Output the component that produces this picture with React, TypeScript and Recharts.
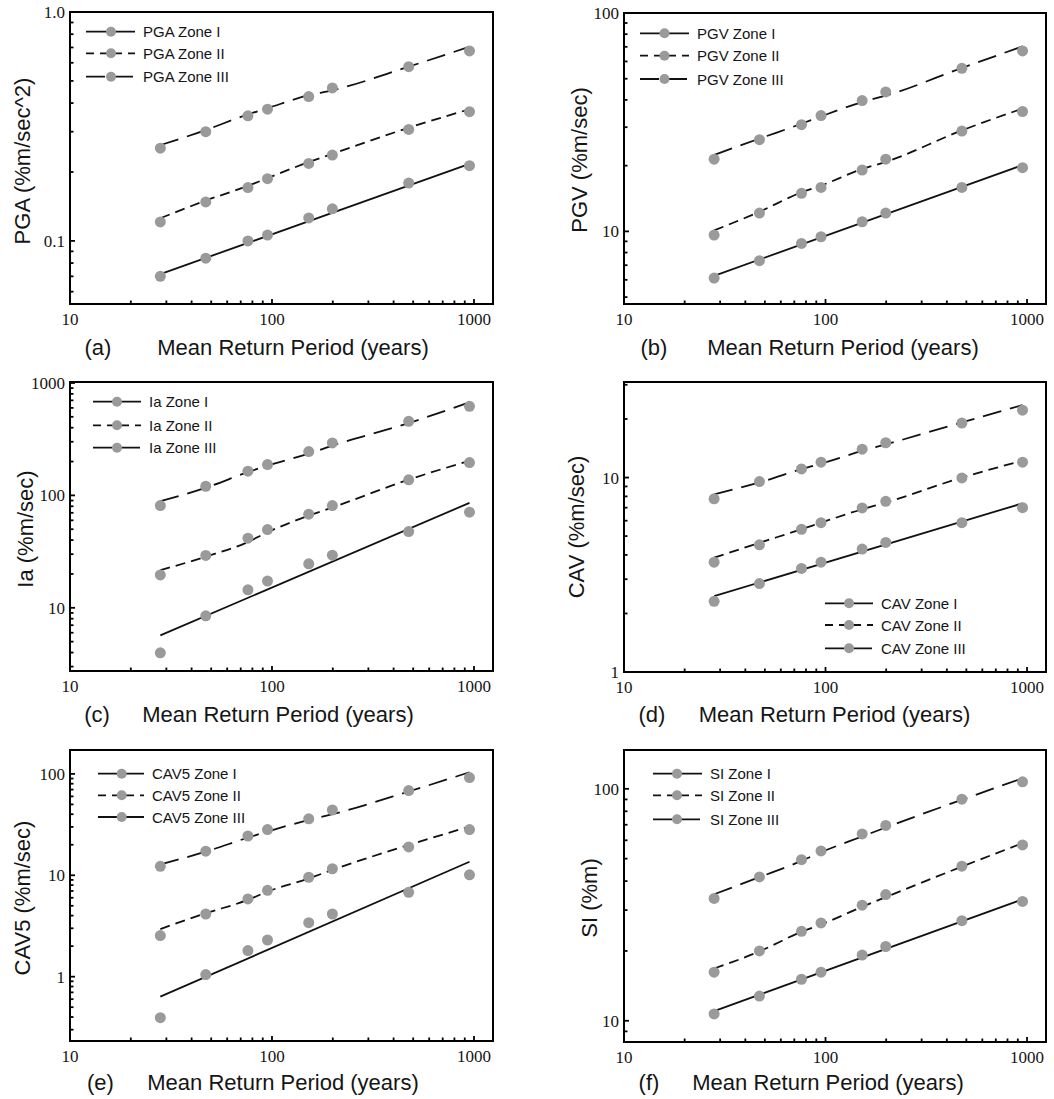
import React from 'react';
import { ComposedChart, Line, Scatter, XAxis, YAxis } from 'recharts';

// ---------- data ----------
const returnPeriods = [28, 47, 76, 95, 152, 199, 475, 950];
const fitEnds = [28, 950];
const zoneNames = ['Zone I', 'Zone II', 'Zone III'];

const pgaZ1 = [0.070, 0.084, 0.100, 0.106, 0.126, 0.138, 0.179, 0.213];
const pgaZ2 = [0.121, 0.148, 0.171, 0.187, 0.218, 0.237, 0.307, 0.367];
const pgaZ3 = [0.254, 0.300, 0.352, 0.376, 0.427, 0.466, 0.577, 0.676];
const pgaFit1 = [0.0716, 0.217];
const pgaFit2 = [0.1256, 0.150, 0.174, 0.188, 0.221, 0.240, 0.312, 0.376];
const pgaFit3 = [0.262, 0.305, 0.357, 0.380, 0.433, 0.455, 0.577, 0.705];

const pgvZ1 = [6.11, 7.34, 8.81, 9.45, 11.07, 12.13, 15.9, 19.57];
const pgvZ2 = [9.62, 12.13, 14.93, 15.9, 19.1, 21.4, 28.8, 35.4];
const pgvZ3 = [21.4, 26.3, 30.8, 33.9, 39.7, 43.5, 55.8, 67.0];
const pgvFit1 = [6.26, 20.1];
const pgvFit2 = [10.1, 12.3, 15.1, 16.2, 19.3, 20.8, 29.0, 36.5];
const pgvFit3 = [22.4, 26.6, 31.1, 33.6, 39.1, 41.8, 56.0, 70.3];

const iaZ1 = [3.98, 8.49, 14.45, 17.3, 24.6, 29.4, 47.7, 70.9];
const iaZ2 = [19.6, 29.2, 41.6, 49.7, 68.0, 81.2, 137.5, 196];
const iaZ3 = [81.2, 120.6, 164, 188, 245.5, 293, 456, 620];
const iaFit1 = [5.68, 85.8];
const iaFit2 = [21.6, 28.5, 38.5, 47, 66, 78, 138, 203];
const iaFit3 = [88.7, 117, 161, 184, 235, 277, 440, 673];

const cavZ1 = [2.31, 2.85, 3.41, 3.67, 4.29, 4.64, 5.86, 7.0];
const cavZ2 = [3.67, 4.51, 5.42, 5.86, 6.98, 7.55, 9.96, 12.0];
const cavZ3 = [7.77, 9.54, 11.08, 12.0, 14.0, 15.1, 19.05, 22.2];
const cavFit1 = [2.455, 7.37];
const cavFit2 = [3.87, 4.62, 5.42, 5.86, 6.87, 7.43, 10.0, 12.2];
const cavFit3 = [8.2, 9.44, 11.05, 11.8, 13.7, 14.8, 19.2, 23.6];

const cav5Z1 = [0.394, 1.05, 1.81, 2.30, 3.41, 4.15, 6.79, 10.1];
const cav5Z2 = [2.54, 4.15, 5.84, 7.11, 9.56, 11.6, 19.05, 28.2];
const cav5Z3 = [12.27, 17.3, 24.4, 28.2, 36.0, 44.1, 68.5, 92.0];
const cav5Fit1 = [0.635, 13.6];
const cav5Fit2 = [2.95, 4.22, 5.72, 6.9, 9.3, 11.3, 19.9, 30.2];
const cav5Fit3 = [12.8, 17.1, 23.5, 27.0, 35.1, 40.0, 67.0, 103.8];

const siZ1 = [10.7, 12.78, 15.1, 16.2, 19.2, 20.9, 27.0, 32.7];
const siZ2 = [16.2, 20.0, 24.3, 26.4, 31.5, 35.0, 46.4, 57.3];
const siZ3 = [33.7, 41.7, 49.5, 54.0, 63.9, 69.5, 90.2, 107.2];
const siFit1 = [11.0, 33.4];
const siFit2 = [16.8, 19.9, 24.2, 26.0, 31.0, 34.1, 46.2, 58.3];
const siFit3 = [35.1, 41.6, 48.9, 53.3, 62.3, 68.1, 89.7, 111];

const xTickValues = [10, 100, 1000];
const xTickLabels = ['10', '100', '1000'];
const xDomain = [10, 1242];

const pgaYTicks = [0.1, 1];
const pgaYLabels = ['0.1', '1.0'];
const pgvYTicks = [10, 100];
const pgvYLabels = ['10', '100'];
const iaYTicks = [10, 100, 1000];
const iaYLabels = ['10', '100', '1000'];
const cavYTicks = [1, 10];
const cavYLabels = ['1', '10'];
const cav5YTicks = [1, 10, 100];
const cav5YLabels = ['1', '10', '100'];
const siYTicks = [10, 100];
const siYLabels = ['10', '100'];

// ---------- helpers ----------
const zip = (xs: number[], ys: number[]) => xs.map((x, i) => ({ x, y: ys[i] }));

function logTicks(min: number, max: number) {
  const out: number[] = [];
  for (let e = -3; e <= 4; e++) {
    for (let k = 1; k <= 9; k++) {
      const v = Number((k * Math.pow(10, e)).toPrecision(6));
      if (v >= min * 0.9999 && v <= max * 1.0001) out.push(v);
    }
  }
  return out;
}

const SERIF = "'Liberation Serif', 'Times New Roman', serif";
const SANS = "'Liberation Sans', Arial, Helvetica, sans-serif";
const TXT = '#151515';
const DOT = '#9a9a9a';
const DASH2 = '10 6';
const DASH3 = '19 9';

const labelFor = (v: number, ticks: number[], labels: string[]) => {
  const i = ticks.findIndex((t) => Math.abs(t - v) / t < 1e-6);
  return i >= 0 ? labels[i] : null;
};

type Cfg = {
  key: string;
  px: number; py: number; h: number;
  plot: { l: number; t: number; r: number; b: number };
  yDomain: number[];
  yTicks: number[]; yLabels: string[];
  yTitle: string; yt: { x: number; y: number };
  xt: { x: number; y: number }; letter: string; lx: number;
  prefix: string;
  legend: { x0: number; x1: number; dx: number; tx: number; rows: number[] };
  dots: number[][];
  fits: number[][];
};

const panels: Cfg[] = [
  {
    key: 'a', px: 0, py: 0, h: 366, plot: { l: 70, t: 12, r: 493, b: 304 },
    yDomain: [0.053, 1.0], yTicks: pgaYTicks, yLabels: pgaYLabels,
    yTitle: 'PGA (%m/sec^2)', yt: { x: 22, y: 161 }, xt: { x: 293, y: 347 }, letter: '(a)', lx: 98,
    prefix: 'PGA', legend: { x0: 86, x1: 135, dx: 111, tx: 143, rows: [31.7, 53.3, 76.7] },
    dots: [pgaZ1, pgaZ2, pgaZ3], fits: [pgaFit1, pgaFit2, pgaFit3],
  },
  {
    key: 'b', px: 527, py: 0, h: 366, plot: { l: 97, t: 13, r: 519, b: 304 },
    yDomain: [4.65, 100], yTicks: pgvYTicks, yLabels: pgvYLabels,
    yTitle: 'PGV (%m/sec)', yt: { x: 52, y: 160 }, xt: { x: 316, y: 347 }, letter: '(b)', lx: 127,
    prefix: 'PGV', legend: { x0: 113, x1: 162, dx: 137.5, tx: 170, rows: [33.3, 55.7, 79] },
    dots: [pgvZ1, pgvZ2, pgvZ3], fits: [pgvFit1, pgvFit2, pgvFit3],
  },
  {
    key: 'c', px: 0, py: 366, h: 366, plot: { l: 70, t: 16, r: 493, b: 305 },
    yDomain: [2.74, 1020], yTicks: iaYTicks, yLabels: iaYLabels,
    yTitle: 'Ia (%m/sec)', yt: { x: 25, y: 163 }, xt: { x: 278, y: 348 }, letter: '(c)', lx: 97,
    prefix: 'Ia', legend: { x0: 93, x1: 141, dx: 117, tx: 149, rows: [35.7, 59.3, 81.7] },
    dots: [iaZ1, iaZ2, iaZ3], fits: [iaFit1, iaFit2, iaFit3],
  },
  {
    key: 'd', px: 527, py: 366, h: 366, plot: { l: 97, t: 16, r: 519, b: 306 },
    yDomain: [1, 31], yTicks: cavYTicks, yLabels: cavYLabels,
    yTitle: 'CAV (%m/sec)', yt: { x: 49, y: 161 }, xt: { x: 307.5, y: 348 }, letter: '(d)', lx: 125,
    prefix: 'CAV', legend: { x0: 298, x1: 346, dx: 322, tx: 354, rows: [237.3, 259, 282.3] },
    dots: [cavZ1, cavZ2, cavZ3], fits: [cavFit1, cavFit2, cavFit3],
  },
  {
    key: 'e', px: 0, py: 732, h: 367, plot: { l: 70, t: 18, r: 493, b: 309 },
    yDomain: [0.232, 172], yTicks: cav5YTicks, yLabels: cav5YLabels,
    yTitle: 'CAV5 (%m/sec)', yt: { x: 22, y: 166 }, xt: { x: 283, y: 350 }, letter: '(e)', lx: 100.5,
    prefix: 'CAV5', legend: { x0: 98, x1: 144, dx: 121.7, tx: 152, rows: [41.7, 63.3, 85] },
    dots: [cav5Z1, cav5Z2, cav5Z3], fits: [cav5Fit1, cav5Fit2, cav5Fit3],
  },
  {
    key: 'f', px: 527, py: 732, h: 367, plot: { l: 97, t: 18, r: 519, b: 310 },
    yDomain: [8.1, 147], yTicks: siYTicks, yLabels: siYLabels,
    yTitle: 'SI (%m)', yt: { x: 62, y: 166 }, xt: { x: 301, y: 350 }, letter: '(f)', lx: 122,
    prefix: 'SI', legend: { x0: 126, x1: 175, dx: 150, tx: 183, rows: [41.7, 63.3, 87.3] },
    dots: [siZ1, siZ2, siZ3], fits: [siFit1, siFit2, siFit3],
  },
];

const W = 527;
const dashes = [undefined, DASH2, DASH3];

function Panel({ cfg }: { cfg: Cfg }) {
  const { plot, h } = cfg;
  const xTicksAll = logTicks(xDomain[0], 1000);
  const yTicksAll = logTicks(cfg.yDomain[0], cfg.yDomain[1]);

  const XTick = (p: any) => {
    const v = p.payload.value;
    const lab = labelFor(v, xTickValues, xTickLabels);
    const len = lab ? 5 : 3.5;
    return (
      <g>
        <line x1={p.x} x2={p.x} y1={p.y} y2={p.y - len} stroke="#000" strokeWidth={1.8} />
        {lab && (
          <text x={p.x} y={p.y + 21} textAnchor="middle" fontFamily={SERIF} fontSize={17} fill={TXT}>
            {lab}
          </text>
        )}
      </g>
    );
  };
  const YTick = (p: any) => {
    const v = p.payload.value;
    const lab = labelFor(v, cfg.yTicks, cfg.yLabels);
    const len = lab ? 5 : 3.5;
    return (
      <g>
        <line x1={p.x} x2={p.x + len} y1={p.y} y2={p.y} stroke="#000" strokeWidth={1.8} />
        {lab && (
          <text x={p.x - 5} y={p.y + 6} textAnchor="end" fontFamily={SERIF} fontSize={17} fill={TXT}>
            {lab}
          </text>
        )}
      </g>
    );
  };

  const dotShape = (p: any) => <circle cx={p.cx} cy={p.cy} r={5.5} fill={DOT} />;

  return (
    <div style={{ position: 'absolute', left: cfg.px, top: cfg.py, width: W, height: h }}>
      <ComposedChart width={W} height={h} margin={{ top: plot.t, right: W - plot.r, bottom: 0, left: 0 }}>
        <XAxis
          dataKey="x" type="number" scale="log" domain={xDomain} allowDataOverflow
          ticks={xTicksAll} interval={0} tickSize={0} tickMargin={0} tickLine={false}
          axisLine={{ stroke: '#000', strokeWidth: 2 }} height={h - plot.b} tick={XTick}
        />
        <YAxis
          dataKey="y" type="number" scale="log" domain={cfg.yDomain} allowDataOverflow
          ticks={yTicksAll} interval={0} tickSize={0} tickMargin={0} tickLine={false}
          axisLine={{ stroke: '#000', strokeWidth: 2 }} width={plot.l} tick={YTick}
        />
        {cfg.fits.map((f, i) => (
          <Line
            key={'fit' + i}
            data={zip(f.length === 2 ? fitEnds : returnPeriods, f)}
            dataKey="y"
            type={f.length === 2 ? 'linear' : 'monotone'}
            stroke="#111"
            strokeWidth={1.8}
            strokeDasharray={dashes[i]}
            dot={false}
            activeDot={false}
            isAnimationActive={false}
          />
        ))}
        {cfg.dots.map((d, i) => (
          <Scatter
            key={'dots' + i}
            data={zip(returnPeriods, d)}
            shape={dotShape}
            isAnimationActive={false}
          />
        ))}
      </ComposedChart>
      <svg width={W} height={h} style={{ position: 'absolute', left: 0, top: 0, pointerEvents: 'none' }}>
        <rect
          x={plot.l} y={plot.t} width={plot.r - plot.l} height={plot.b - plot.t}
          fill="none" stroke="#000" strokeWidth={2}
        />
        <text
          x={cfg.yt.x} y={cfg.yt.y} transform={`rotate(-90 ${cfg.yt.x} ${cfg.yt.y})`}
          textAnchor="middle" dominantBaseline="central" fontFamily={SANS} fontSize={22} fill={TXT}
        >
          {cfg.yTitle}
        </text>
        <text x={cfg.xt.x} y={cfg.xt.y} textAnchor="middle" dominantBaseline="central" fontFamily={SANS} fontSize={22} fill={TXT}>
          Mean Return Period (years)
        </text>
        <text x={cfg.lx} y={cfg.xt.y} textAnchor="middle" dominantBaseline="central" fontFamily={SANS} fontSize={22} fill={TXT}>
          {cfg.letter}
        </text>
        {zoneNames.map((z, i) => {
          const L = cfg.legend;
          const y = L.rows[i];
          return (
            <g key={z}>
              <line x1={L.x0} x2={L.x1} y1={y} y2={y} stroke="#111" strokeWidth={1.8}
                strokeDasharray={i === 0 ? undefined : i === 1 ? '8 6' : '19 9'} />
              <circle cx={L.dx} cy={y} r={5} fill={DOT} />
              <text x={L.tx} y={y} dominantBaseline="central" fontFamily={SANS} fontSize={15} fill={TXT}>
                {cfg.prefix + ' ' + z}
              </text>
            </g>
          );
        })}
      </svg>
    </div>
  );
}

export default function App() {
  return (
    <div style={{ position: 'absolute', left: 0, top: 0, width: 1054, height: 1099, background: '#fff' }}>
      {panels.map((p) => (
        <Panel key={p.key} cfg={p} />
      ))}
    </div>
  );
}
